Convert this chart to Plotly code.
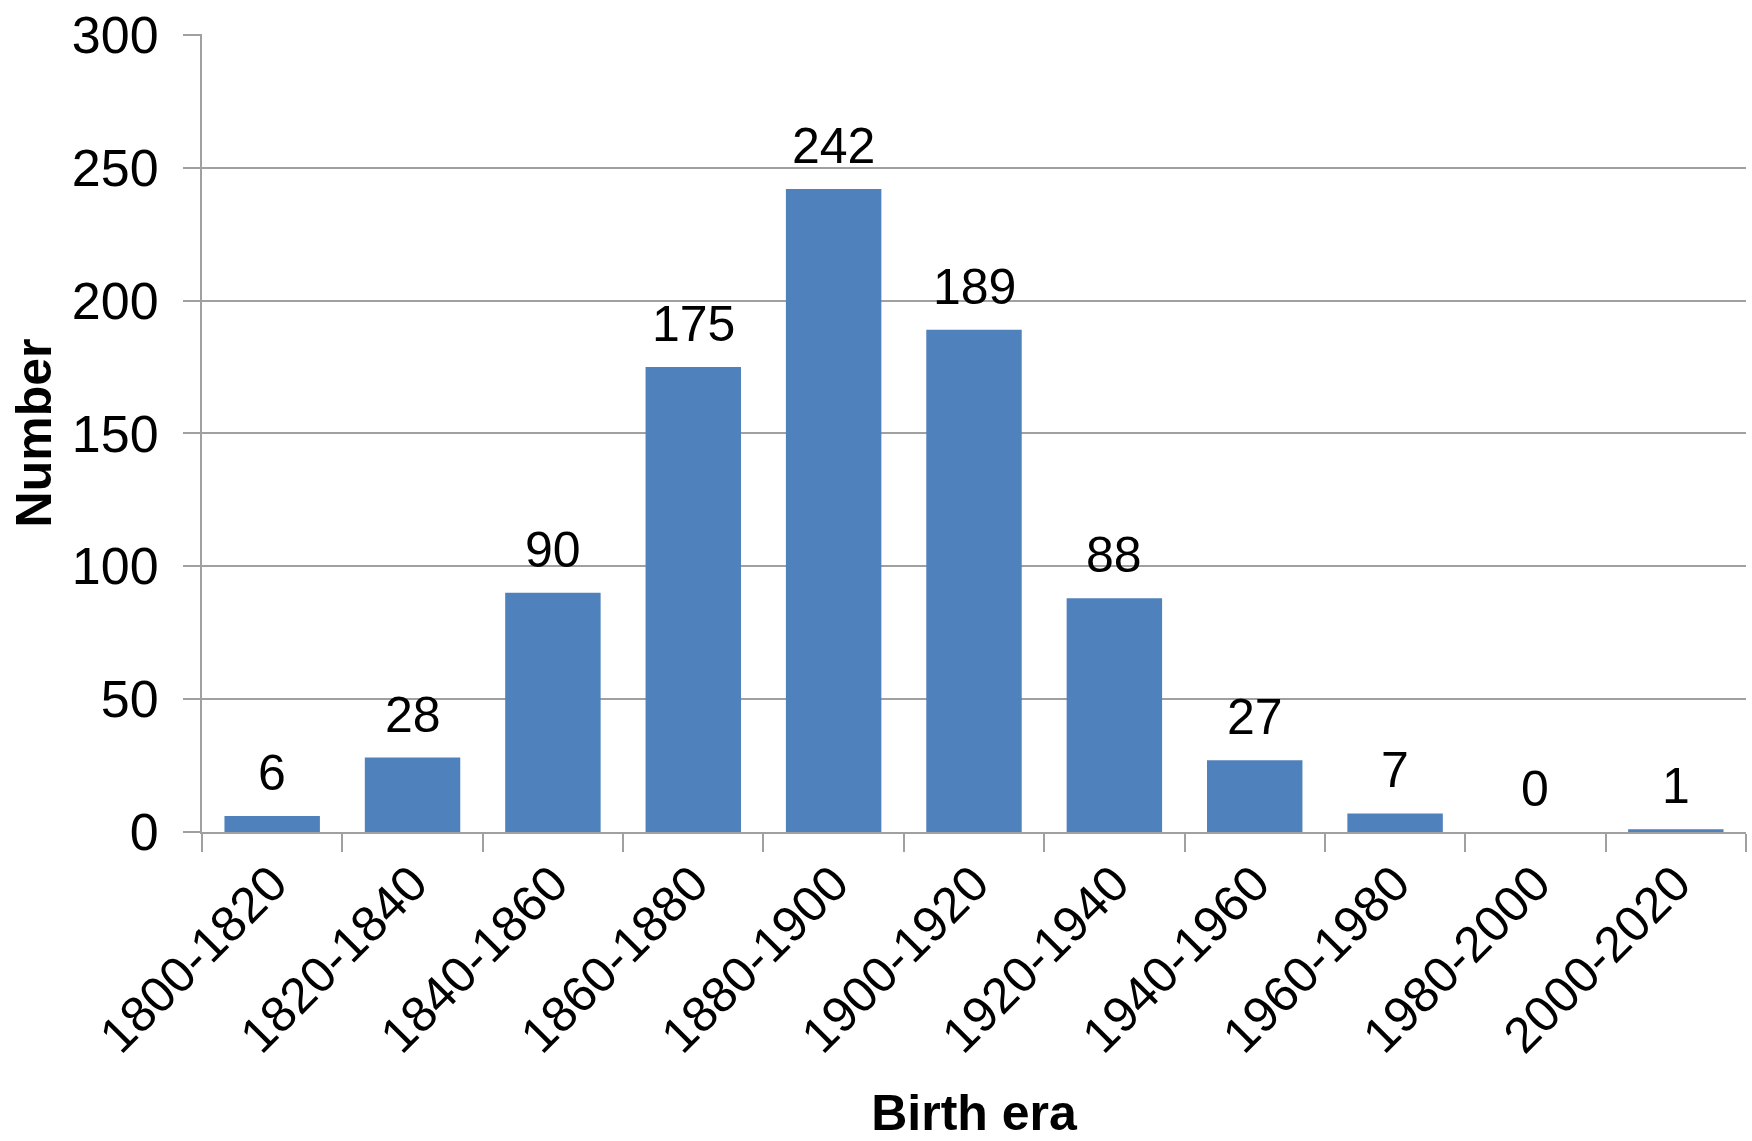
import plotly.graph_objects as go

categories = ["1800-1820", "1820-1840", "1840-1860", "1860-1880", "1880-1900",
              "1900-1920", "1920-1940", "1940-1960", "1960-1980", "1980-2000", "2000-2020"]
counts = [6, 28, 90, 175, 242, 189, 88, 27, 7, 0, 1]
y_ticks = [0, 50, 100, 150, 200, 250, 300]

FONT = "Liberation Sans, Arial, sans-serif"
GRID = "#a0a0a0"
BAR = "#4f81bd"

fig = go.Figure()
fig.add_trace(go.Bar(x=categories, y=counts, marker=dict(color=BAR, line=dict(width=0)),
                     hoverinfo="x+y"))

for c, v in zip(categories, counts):
    fig.add_annotation(x=c, y=v, text=str(v), showarrow=False, yanchor="bottom",
                       yshift=13, font=dict(family=FONT, size=50, color="black"))

fig.update_layout(
    width=1752, height=1141,
    margin=dict(l=202, r=6, t=34, b=309),
    paper_bgcolor="white", plot_bgcolor="white",
    bargap=0.32, showlegend=False,
    font=dict(family=FONT, size=50, color="black"),
)
fig.update_xaxes(
    type="category", showline=True, linecolor=GRID, linewidth=2,
    ticks="outside", tickson="boundaries", ticklen=18, tickcolor=GRID, tickwidth=2,
    tickangle=-45, tickfont=dict(family=FONT, size=50, color="black"),
    showgrid=False, automargin=False,
    title=dict(text="<b>Birth era</b>", font=dict(family=FONT, size=50, color="black"), standoff=39),
)
fig.update_yaxes(
    range=[0, 300.3], tickvals=y_ticks, showline=True, linecolor=GRID, linewidth=2,
    ticks="outside", ticklen=17, tickcolor=GRID, tickwidth=2,
    showgrid=True, gridcolor=GRID, gridwidth=2, zeroline=False,
    tickfont=dict(family=FONT, size=52, color="black"), ticklabelstandoff=14,
    ticklabeloverflow="allow", automargin=False,
    title=dict(text="<b>Number</b>", font=dict(family=FONT, size=50, color="black"), standoff=4),
)

fig.write_html("out.html", config={"displayModeBar": False},
               post_script="document.body.style.margin='0';")
